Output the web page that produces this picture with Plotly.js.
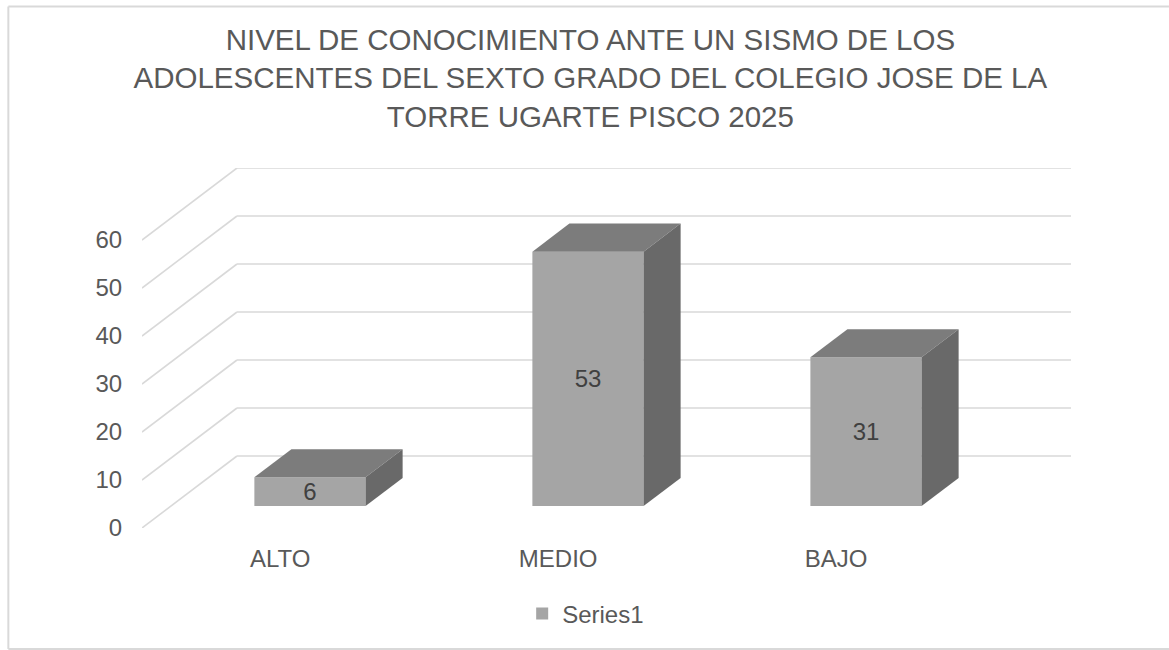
<!DOCTYPE html>
<html><head><meta charset="utf-8">
<script src="https://cdn.plot.ly/plotly-3.0.1.min.js"></script>
<style>html,body{margin:0;padding:0;background:#fff}#c{width:1169px;height:650px}</style>
</head><body><div id="c"></div>
<script>
const categories = ["ALTO", "MEDIO", "BAJO"];
const values = [6, 53, 31];
const yTicks = [0, 10, 20, 30, 40, 50, 60];
const seriesName = "Series1";
const titleText = "NIVEL DE CONOCIMIENTO ANTE UN SISMO DE LOS<br>ADOLESCENTES DEL SEXTO GRADO DEL COLEGIO JOSE DE LA<br>TORRE UGARTE PISCO 2025";

// oblique projection, in axis units, of one unit of chart depth
const depthX = 0.3416, depthY = 15;
const barWidth = 0.4, barStart = 0.3, depth0 = 0.305, depth1 = 0.695;
const W = 1169, H = 650, mL = 141.7, mR = 98, mT = 168, mB = 122;
const xMax = categories.length + depthX;
const px = v => (v - mL) / (W - mL - mR);
const py = v => (H - mB - v) / (H - mT - mB);

const proj = (x, v, d) => [x + d * depthX, v + d * depthY];
const face = (pts, color) => ({
  type: "scatter", mode: "lines", x: pts.map(p => p[0]), y: pts.map(p => p[1]),
  fill: "toself", fillcolor: color, line: {width: 0, color: color},
  hoverinfo: "skip", showlegend: false
});

const traces = [{
  type: "bar", name: seriesName, showlegend: true,
  x: categories.map((c, i) => i + barStart + barWidth / 2 + depth0 * depthX),
  y: values, base: values.map(() => depth0 * depthY), width: barWidth,
  marker: {color: "#A5A5A5", line: {width: 0}},
  text: values.map(String), textposition: "inside", insidetextanchor: "middle",
  constraintext: "none", cliponaxis: false,
  textangle: 0, insidetextfont: {color: "#404040", size: 24},
  hoverinfo: "x+y"
}];
values.forEach((v, i) => {
  const a = i + barStart, b = a + barWidth;
  traces.push(face([proj(a, v, depth0), proj(b, v, depth0), proj(b, v, depth1), proj(a, v, depth1), proj(a, v, depth0)], "#7C7C7C"));
  traces.push(face([proj(b, 0, depth0), proj(b, v, depth0), proj(b, v, depth1), proj(b, 0, depth1), proj(b, 0, depth0)], "#696969"));
});

const gridLine = {color: "#D9D9D9", width: 1.6};
const shapes = [];
yTicks.forEach(t => {
  const [bx, by] = proj(0, t, 1);
  const [ex] = proj(categories.length, t, 1);
  shapes.push({type: "line", layer: "below", xref: "x", yref: "y", x0: bx, y0: by, x1: ex, y1: by, line: gridLine});
  shapes.push({type: "line", layer: "below", xref: "x", yref: "y", x0: 0, y0: t, x1: bx, y1: by, line: gridLine});
});
const borderLine = {color: "#D9D9D9", width: 2};
shapes.push({type: "line", layer: "below", xref: "paper", yref: "paper", x0: px(8), x1: px(8), y0: py(6.5), y1: py(649), line: borderLine});
shapes.push({type: "line", layer: "below", xref: "paper", yref: "paper", x0: px(8), x1: px(1169), y0: py(6.5), y1: py(6.5), line: borderLine});
shapes.push({type: "line", layer: "below", xref: "paper", yref: "paper", x0: px(8), x1: px(1169), y0: py(649), y1: py(649), line: borderLine});

const layout = {
  width: W, height: H, paper_bgcolor: "#fff", plot_bgcolor: "rgba(0,0,0,0)",
  margin: {l: mL, r: mR, t: mT, b: mB, pad: 0},
  font: {family: "Liberation Sans, Arial, sans-serif", color: "#595959", size: 24},
  title: {text: titleText, font: {size: 29.5, color: "#595959"}, x: 0.505, xref: "container", xanchor: "center",
    y: 0.923, yanchor: "top"},
  xaxis: {type: "linear", range: [0, xMax], showgrid: false, zeroline: false, showline: false,
    tickmode: "array", tickvals: categories.map((c, i) => i + 0.497), ticktext: categories,
    ticks: "outside", ticklen: 9, tickcolor: "rgba(0,0,0,0)", tickfont: {size: 24, color: "#595959"}},
  yaxis: {type: "linear", range: [0, depthY + yTicks[yTicks.length - 1]], showgrid: false, zeroline: false, showline: false,
    tickmode: "array", tickvals: yTicks, ticktext: yTicks.map(String),
    ticks: "outside", ticklen: 14, tickcolor: "rgba(0,0,0,0)", tickfont: {size: 24, color: "#595959"}},
  legend: {orientation: "h", x: px(522), xanchor: "left", y: py(614), yanchor: "middle",
    font: {size: 24, color: "#595959"}, bgcolor: "rgba(0,0,0,0)"},
  shapes: shapes, showlegend: true
};
Plotly.newPlot("c", traces, layout, {displayModeBar: false, staticPlot: true});
</script></body></html>
